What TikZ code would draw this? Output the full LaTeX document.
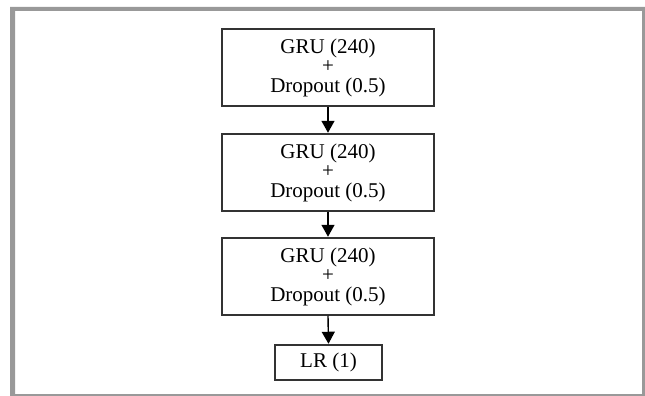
\documentclass[tikz,border=0pt]{standalone}
\usepackage{fontspec}
\setmainfont{Liberation Serif}
\usetikzlibrary{arrows.meta}
\definecolor{framegray}{HTML}{999999}
\definecolor{boxline}{HTML}{333333}
\begin{document}
\begin{tikzpicture}[x=1pt,y=-1pt,
  layer/.style={draw=boxline,line width=1.5pt,fill=white,align=center,
    minimum width=212pt,minimum height=77pt,inner sep=0pt,
    font=\fontsize{21}{19.5}\selectfont},
  outbox/.style={draw=boxline,line width=1.5pt,fill=white,
    minimum width=107pt,minimum height=35pt,inner sep=0pt,
    font=\fontsize{21}{19.5}\selectfont},
  flow/.style={line width=1.4pt,draw=black,
    -{Triangle[length=12pt,width=13pt]},shorten >=0.5pt}]
\useasboundingbox (0,0) rectangle (645,396);
% grey frame
\fill[framegray,even odd rule] (10,7) rectangle (645,396) (15,11) rectangle (642,394);
% layers
\node[layer] (g1) at (328,67.5) {GRU (240)\\+\\Dropout (0.5)};
\node[layer] (g2) at (328,172.5) {GRU (240)\\+\\Dropout (0.5)};
\node[layer] (g3) at (328,276.5) {GRU (240)\\+\\Dropout (0.5)};
\node[outbox] (lr) at (328.5,362.5) {LR (1)};
% connections
\draw[flow] (g1.south) -- (g2.north);
\draw[flow] (g2.south) -- (g3.north);
\draw[flow] (g3.south) -- (lr.north);
\end{tikzpicture}
\end{document}
